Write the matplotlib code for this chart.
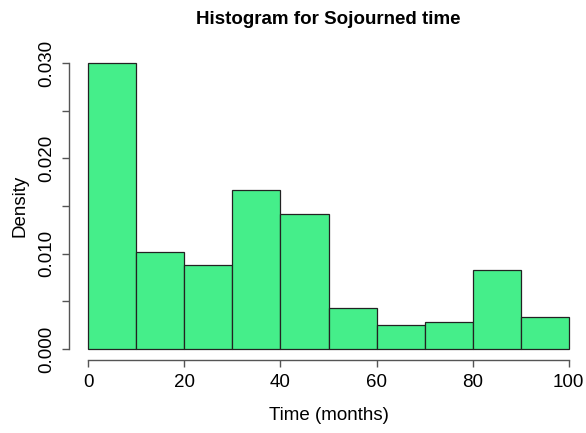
import matplotlib
matplotlib.use("Agg")
import matplotlib.pyplot as plt
from matplotlib import font_manager

names = {f.name for f in font_manager.fontManager.ttflist}
FAM = "Liberation Sans Narrow" if "Liberation Sans Narrow" in names else "Liberation Sans"
plt.rcParams["font.family"] = [FAM, "DejaVu Sans"]

# histogram bins (months) and densities
edges = [0, 10, 20, 30, 40, 50, 60, 70, 80, 90, 100]
density = [0.0300, 0.0102, 0.0088, 0.0167, 0.0142, 0.0043, 0.0025, 0.0028, 0.0083, 0.0034]
xticks = [0, 20, 40, 60, 80, 100]
yticks = [0.000, 0.005, 0.010, 0.015, 0.020, 0.025, 0.030]
ylabels = ["0.000", "", "0.010", "", "0.020", "", "0.030"]

FILL, EDGE, AXC = "#45EE8A", "#222222", "#555555"

fig = plt.figure(figsize=(5.86, 4.33), dpi=100)
ax = fig.add_axes([69 / 586, 1 - 360.4 / 433, 519 / 586, 308.8 / 433])

widths = [b - a for a, b in zip(edges[:-1], edges[1:])]
ax.bar(edges[:-1], density, width=widths, align="edge",
       color=FILL, edgecolor=EDGE, linewidth=0.9)

ax.set_xlim(-4, 104)
ax.set_ylim(-0.0012, 0.0312)
for s in ("top", "right"):
    ax.spines[s].set_visible(False)
ax.spines["bottom"].set_bounds(0, 100)
ax.spines["left"].set_bounds(0, 0.030)
for s in ("bottom", "left"):
    ax.spines[s].set_color(AXC)
    ax.spines[s].set_linewidth(1.0)

ax.set_xticks(xticks)
ax.set_yticks(yticks)
ax.set_yticklabels(ylabels, rotation=90, va="center")
ax.tick_params(length=5, width=1.0, color=AXC, labelsize=13.5, pad=5)

ax.set_title("Histogram for Sojourned time", fontsize=13.5, fontweight="bold", pad=20)
ax.set_xlabel("Time (months)", fontsize=13.5, labelpad=11)
ax.set_ylabel("Density", fontsize=13.5, labelpad=7)

fig.savefig("out.png", dpi=100)
